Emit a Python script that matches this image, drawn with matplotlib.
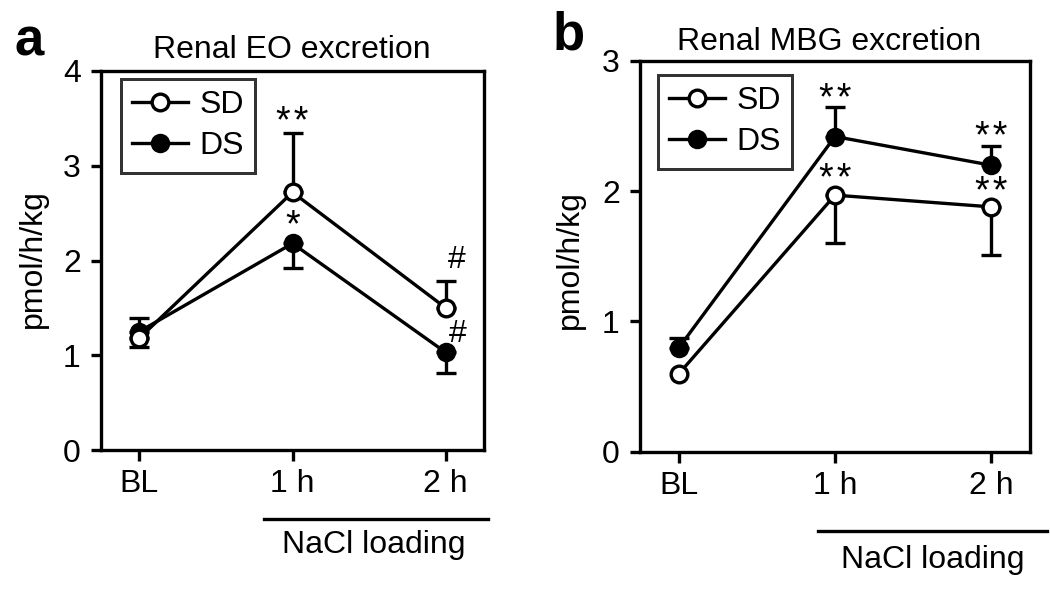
import matplotlib
matplotlib.use("Agg")
import matplotlib.pyplot as plt
from matplotlib.lines import Line2D

plt.rcParams['font.family'] = ['Liberation Sans', 'DejaVu Sans']

W, H = 1050, 590

# ---------------- data ----------------
timepoints = ["BL", "1 h", "2 h"]

# Panel a: Renal EO excretion
eo_sd = [1.18, 2.72, 1.50]
eo_sd_lo = [0.09, 0.0, 0.0]
eo_sd_hi = [0.0, 0.63, 0.28]
eo_ds = [1.25, 2.18, 1.03]
eo_ds_lo = [0.0, 0.26, 0.22]
eo_ds_hi = [0.14, 0.0, 0.0]
eo_marks = [("**", 1, 3.35), ("*", 1, 2.26), ("#", 2.07, 1.92), ("#", 2.08, 1.14)]

# Panel b: Renal MBG excretion
mbg_sd = [0.60, 1.97, 1.88]
mbg_sd_lo = [0.0, 0.37, 0.37]
mbg_sd_hi = [0.0, 0.0, 0.0]
mbg_ds = [0.80, 2.42, 2.20]
mbg_ds_lo = [0.0, 0.0, 0.0]
mbg_ds_hi = [0.07, 0.23, 0.15]
mbg_marks = [("**", 1, 2.62), ("**", 1, 2.01), ("**", 2, 2.33), ("**", 2, 1.91)]

FS = 23
STAR_FS = 27
LW = 2.4

fig = plt.figure(figsize=(W / 100, H / 100), dpi=100)


def px(x, y):
    return x / W, 1 - y / H


def make_axes(rect_px):
    l, t, r, b = rect_px
    return fig.add_axes([l / W, 1 - b / H, (r - l) / W, (b - t) / H])


def draw_panel(ax, sd, sd_lo, sd_hi, ds, ds_lo, ds_hi, ymax, marks, leg_anchor):
    x = list(range(len(timepoints)))
    for vals, lo, hi in ((ds, ds_lo, ds_hi), (sd, sd_lo, sd_hi)):
        for xi, v, l, h in zip(x, vals, lo, hi):
            if l > 0:
                ax.errorbar([xi], [v], yerr=[[l], [0]], fmt='none', ecolor='black',
                            elinewidth=LW, capsize=7, capthick=LW, zorder=2)
            if h > 0:
                ax.errorbar([xi], [v], yerr=[[0], [h]], fmt='none', ecolor='black',
                            elinewidth=LW, capsize=7, capthick=LW, zorder=2)
    ax.plot(x, ds, '-o', color='black', lw=LW, ms=12, mfc='black', mec='black',
            mew=2, zorder=3, label='DS')
    ax.plot(x, sd, '-o', color='black', lw=LW, ms=12, mfc='white', mec='black',
            mew=2.4, zorder=4, label='SD')
    for txt, mx, my in marks:
        if '*' in txt:
            ax.text(mx, my, '\u200a'.join(txt), ha='center', va='baseline',
                    fontsize=STAR_FS, zorder=5)
        else:
            ax.text(mx, my, txt, ha='center', va='baseline', fontsize=FS, zorder=5)

    ax.set_xlim(-0.25, 2.25)
    ax.set_ylim(0, ymax)
    ax.set_yticks(range(0, ymax + 1))
    ax.set_xticks(x)
    ax.set_xticklabels(timepoints)
    for s in ax.spines.values():
        s.set_linewidth(LW)
    ax.tick_params(axis='y', length=7.5, width=LW, pad=7, labelsize=FS)
    ax.tick_params(axis='x', length=8, width=LW, pad=6, labelsize=FS)

    handles = [Line2D([], [], color='black', lw=LW, marker='o', ms=12, mfc='white', mew=2.4),
               Line2D([], [], color='black', lw=LW, marker='o', ms=12, mfc='black', mew=2)]
    leg = ax.legend(handles, ['SD', 'DS'], loc='upper left', bbox_to_anchor=leg_anchor,
                    borderaxespad=0, fontsize=FS, frameon=True, fancybox=False,
                    handlelength=1.75, handletextpad=0.35, labelspacing=0.35,
                    borderpad=0.35)
    leg.get_frame().set_edgecolor('black')
    leg.get_frame().set_linewidth(LW * 0.9)
    leg.get_frame().set_facecolor('white')
    leg.set_zorder(6)


ax_a = make_axes((101, 71, 484, 450))
draw_panel(ax_a, eo_sd, eo_sd_lo, eo_sd_hi, eo_ds, eo_ds_lo, eo_ds_hi, 4, eo_marks, (0.052, 0.979))
ax_b = make_axes((640, 61, 1030, 451.7))
draw_panel(ax_b, mbg_sd, mbg_sd_lo, mbg_sd_hi, mbg_ds, mbg_ds_lo, mbg_ds_hi, 3, mbg_marks, (0.046, 0.964))

# NaCl loading bars
ax_a.plot([0.4256, 1.0104], [-0.182, -0.182], transform=ax_a.transAxes, color='black',
          lw=LW, clip_on=False)
ax_a.text(0.7128, -0.2507, "NaCl loading", transform=ax_a.transAxes, ha='center',
          va='center', fontsize=FS)
ax_b.plot([0.456, 1.0436], [-0.202, -0.202], transform=ax_b.transAxes, color='black',
          lw=LW, clip_on=False)
ax_b.text(0.751, -0.277, "NaCl loading", transform=ax_b.transAxes, ha='center',
          va='center', fontsize=FS)

# Titles, y labels, panel letters
fig.text(*px(292, 58), "Renal EO excretion", ha='center', va='baseline', fontsize=FS)
fig.text(*px(829, 50), "Renal MBG excretion", ha='center', va='baseline', fontsize=FS)
fig.text(*px(33, 259), "pmol/h/kg", rotation=90, ha='center', va='center', fontsize=FS)
fig.text(*px(570, 260), "pmol/h/kg", rotation=90, ha='center', va='center', fontsize=FS)
fig.text(*px(15, 55), "a", ha='left', va='baseline', fontsize=38, fontweight='bold')
fig.text(*px(553, 50), "b", ha='left', va='baseline', fontsize=38, fontweight='bold')

fig.savefig("out.png", dpi=100)
